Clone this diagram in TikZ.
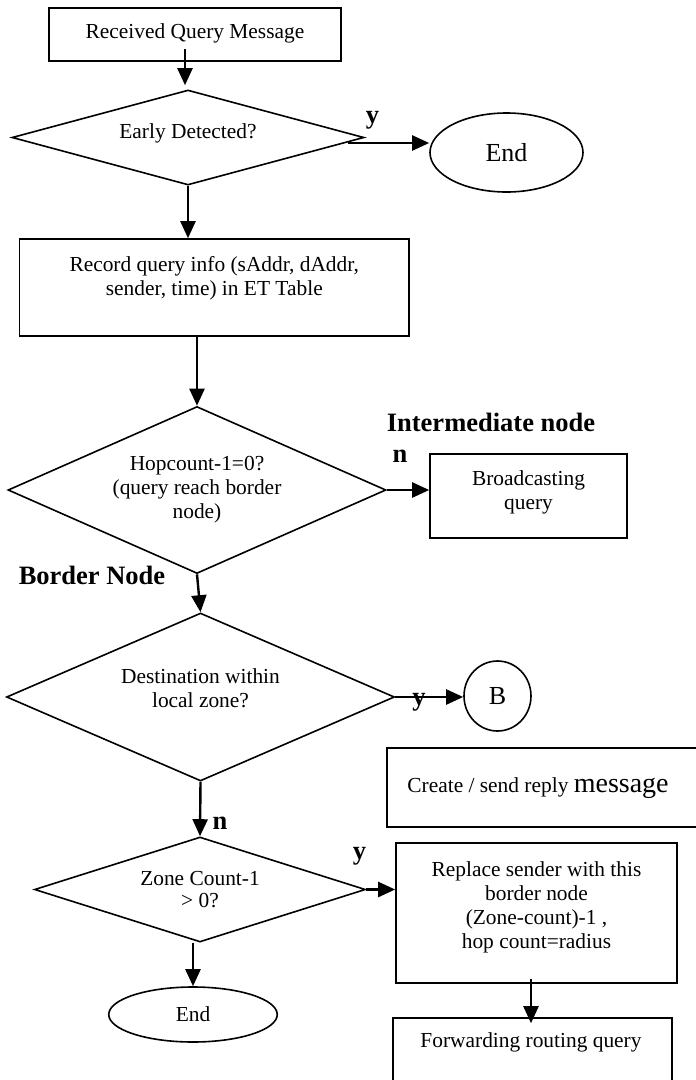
\documentclass[tikz,border=0pt]{standalone}
\usepackage{fontspec}
\setmainfont{Liberation Serif}
\usetikzlibrary{shapes.geometric,arrows.meta}

\tikzset{
  shapeline/.style={draw=black, line width=1.6pt},
  box/.style={shapeline, rectangle, inner sep=0pt},
  decision/.style={shapeline, diamond, inner sep=0pt},
  terminal/.style={shapeline, ellipse, inner sep=0pt},
  txt/.style={font=\fontsize{21.4}{24}\selectfont, align=center, inner sep=0pt},
  bigtxt/.style={font=\fontsize{26}{30}\selectfont, inner sep=0pt},
  tag/.style={font=\fontsize{26.5}{30}\selectfont\bfseries, inner sep=0pt},
  arr/.style={line width=2.4pt, -{Triangle[length=17pt,width=15pt]}},
}

\begin{document}
\begin{tikzpicture}[x=1pt,y=-1pt]
\useasboundingbox (0,0) rectangle (696,1080);
\clip (0,0) rectangle (696,1080);
\fill[white] (0,0) rectangle (696,1080);

% --- start of the flow
\node[box, minimum width=292pt, minimum height=53pt] (recv) at (195,34.5) {};
\node[txt] (recv-t) at ([yshift=1pt]recv.center) {Received Query Message};

\node[decision, minimum width=352pt, minimum height=95pt] (early) at (188,137.5) {};
\node[txt] (early-t) at ([yshift=4.5pt]early.center) {Early Detected?};

\node[terminal, bigtxt, minimum width=153pt, minimum height=79pt] (end1) at (506.5,152.5) {End};

\node[box, minimum width=389.5pt, minimum height=97pt] (rec) at (214.25,287.5) {};
\node[txt] (rec-t) at ([yshift=9pt]rec.center) {Record query info (sAddr, dAddr,\\ sender, time) in ET Table};

% --- hop count test
\node[decision, txt, minimum width=378pt, minimum height=167pt, shape aspect=2.26] (hop) at (197,490)
  {Hopcount-1=0?\\ (query reach border\\ node)};

\node[box, minimum width=197pt, minimum height=84pt] (bcast) at (528.5,496) {};
\node[txt] (bcast-t) at ([yshift=4pt]bcast.center) {Broadcasting\\ query};

% --- border node branch
\node[decision, minimum width=388pt, minimum height=168pt] (dest) at (200.5,697) {};
\node[txt] (dest-t) at ([yshift=9pt]dest.center) {Destination within\\ local zone?};

\node[terminal, bigtxt, minimum width=67pt, minimum height=70pt] (conn) at (497.5,696) {B};

\node[box, minimum width=333pt, minimum height=79pt] (reply) at (553.5,787.5) {};
\node[txt, anchor=base west] (reply-t) at ([xshift=21pt,yshift=-4.5pt]reply.west)
  {Create / send reply {\fontsize{28}{30}\selectfont message}};

\node[decision, txt, minimum width=331pt, minimum height=105pt, shape aspect=3.15] (zone) at (200,889.5)
  {Zone Count-1\\[-2pt] > 0?};

\node[box, minimum width=281pt, minimum height=140pt] (repl) at (536.5,913) {};
\node[txt] (repl-t) at ([yshift=6pt]repl.center)
  {Replace sender with this\\ border node\\ (Zone-count)-1 ,\\ hop count=radius};

\node[terminal, txt, minimum width=168.5pt, minimum height=55pt] (end2) at (193,1014.5) {End};

\node[box, minimum width=279pt, minimum height=82pt] (fwd) at (532.5,1059) {};
\node[txt, anchor=base] (fwd-t) at ([xshift=-1.5pt,yshift=-30pt]fwd.north) {Forwarding routing query};

% --- connectors
\coordinate (s1) at ([xshift=-10pt,yshift=13pt]recv.south);
\coordinate (e1) at (s1 |- early.north);
\draw[arr] (s1) -- ([yshift=4pt]e1);

\coordinate (s2) at ([xshift=-17pt,yshift=-5.5pt]early.east);
\draw[arr] (s2) -- (s2 -| end1.west);

\draw[arr] (early.south) -- (early.south |- rec.north);
\draw[arr] (hop.north |- rec.south) -- (hop.north);
\draw[arr] (hop.east) -- (hop.east -| bcast.west);
\draw[arr] (hop.south) -- (dest.north);
\draw[arr] (dest.east) -- (dest.east -| conn.west);
\draw[arr] (dest.south) -- (zone.north);
\draw[arr] (zone.east) -- (zone.east -| repl.west);
\draw[arr] (end2.north |- zone.south) -- (end2.north);

\coordinate (s6) at ([xshift=-5.5pt,yshift=5pt]repl.south);
\coordinate (e6) at (s6 |- fwd.north);
\draw[arr] (s6) -- ([yshift=-6pt]e6);

% --- branch labels
\node[tag] (y1) at (372.5,120.5) {y};
\node[tag] (inter) at (491,422.5) {Intermediate node};
\node[tag] (n1) at (400,456) {n};
\node[tag] (border) at (92,575) {Border Node};
\node[tag] (y2) at (419,702.5) {y};
\node[tag] (n2) at (220,823) {n};
\node[tag] (y3) at (359.5,856) {y};
\end{tikzpicture}
\end{document}
